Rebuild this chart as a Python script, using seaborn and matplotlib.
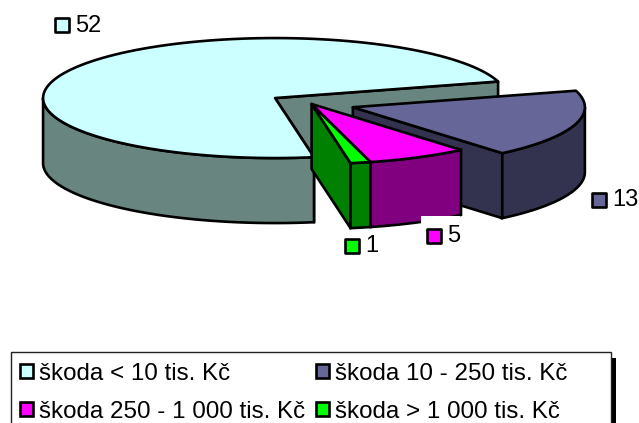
import numpy as np
import pandas as pd
import matplotlib
matplotlib.use("Agg")
import matplotlib.pyplot as plt
from matplotlib.patches import Polygon, Rectangle
import seaborn as sns

# data, legend order
labels = ["škoda < 10 tis. Kč", "škoda 10 - 250 tis. Kč",
          "škoda 250 - 1 000 tis. Kč", "škoda > 1 000 tis. Kč"]
values = [52, 13, 5, 1]
explode = [0.186, 0.186, 0.0, 0.0]
top_colors = ["#ccffff", "#666699", "#ff00ff", "#00ff00"]
side_colors = ["#68857f", "#33334f", "#800080", "#008000"]

df = pd.DataFrame({"label": labels, "value": values, "explode": explode})
df["span"] = df["value"] / df["value"].sum() * 360

sns.set_theme(style="white")
plt.rcParams["font.family"] = ["Liberation Sans", "DejaVu Sans"]

# pie geometry in pixels
cx, cy = 311.6, 104.0
rx, ry = 232.0, 60.0
depth = 65.0
start = 16.0
lw = 1.9

fig, ax = plt.subplots(figsize=(6.39, 4.23), dpi=100)
ax.set_position([0, 0, 1, 1])
ax.set_xlim(0, 639)
ax.set_ylim(423, 0)
ax.axis("off")


def arc(x0, y0, t1, t2, dy=0.0):
    t = np.radians(np.linspace(t1, t2, 120))
    return np.column_stack([x0 + rx * np.cos(t), y0 - ry * np.sin(t) + dy])


def draw_slice(i, t1, t2, radial_faces):
    # t1 < t2, degrees counter clockwise
    mid = np.radians((t1 + t2) / 2)
    x0 = cx + df["explode"][i] * rx * np.cos(mid)
    y0 = cy - df["explode"][i] * ry * np.sin(mid)
    side = side_colors[i]
    for t in radial_faces:
        p = arc(x0, y0, t, t)[0]
        ax.add_patch(Polygon([(x0, y0), p, p + (0, depth), (x0, y0 + depth)],
                             fc=side, ec="black", lw=lw, joinstyle="round"))
    # outer wall, only the part that faces the viewer
    for k in (-1, 0, 1):
        lo = max(t1, 180 + 360 * k)
        hi = min(t2, 360 + 360 * k)
        if lo < hi:
            a = arc(x0, y0, lo, hi)
            b = arc(x0, y0, hi, lo, depth)
            ax.add_patch(Polygon(np.vstack([a, b]), fc=side, ec="black", lw=lw))
    ax.add_patch(Polygon(np.vstack([[(x0, y0)], arc(x0, y0, t1, t2)]),
                         fc=top_colors[i], ec="black", lw=lw, joinstyle="round"))


# big slice runs counter clockwise from start, the rest clockwise
big_end = start + df["span"][0]
draw_slice(0, start, big_end, [start, big_end])
t = start
ends = []
for i in (1, 2, 3):
    ends.append((i, t - df["span"][i], t))
    t -= df["span"][i]
i, lo, hi = ends[0]
draw_slice(i, lo, hi, [lo])
i, lo, hi = ends[2]
draw_slice(i, lo, hi, [lo])
i, lo, hi = ends[1]
draw_slice(i, lo, hi, [])

# white label background under the 5
ax.add_patch(Rectangle((421, 216), 39, 30, fc="white", ec="none", zorder=3))

# value labels
label_pos = [(62, 25), (599, 200), (434, 236), (352, 246)]
for i, (x, y) in enumerate(label_pos):
    ax.scatter([x], [y], marker="s", s=92, c=top_colors[i], edgecolors="black",
               linewidths=lw, zorder=4)
    ax.text(x + 13, y + 0.5, str(values[i]), fontsize=17, color="black",
            ha="left", va="center", zorder=4)

# legend box runs off the bottom of the picture
ax.add_patch(Rectangle((611, 358), 5, 65, fc="black", ec="none", zorder=1))
ax.add_patch(Rectangle((11, 352), 600, 80, fc="white", ec="#222222", lw=1.0, zorder=2))
handles = [Rectangle((0, 0), 1, 1, fc=c, ec="black", lw=lw) for c in top_colors]
order = [0, 2, 1, 3]
leg = ax.legend([handles[i] for i in order], [labels[i] for i in order], ncol=2,
                loc="upper left", bbox_to_anchor=(20, 363), bbox_transform=ax.transData,
                frameon=False, fontsize=17.4, labelcolor="black",
                handlelength=0.52, handleheight=0.52, handletextpad=0.28,
                columnspacing=0.44, labelspacing=0.66, borderpad=0, borderaxespad=0)

fig.savefig("out.png", dpi=100)
